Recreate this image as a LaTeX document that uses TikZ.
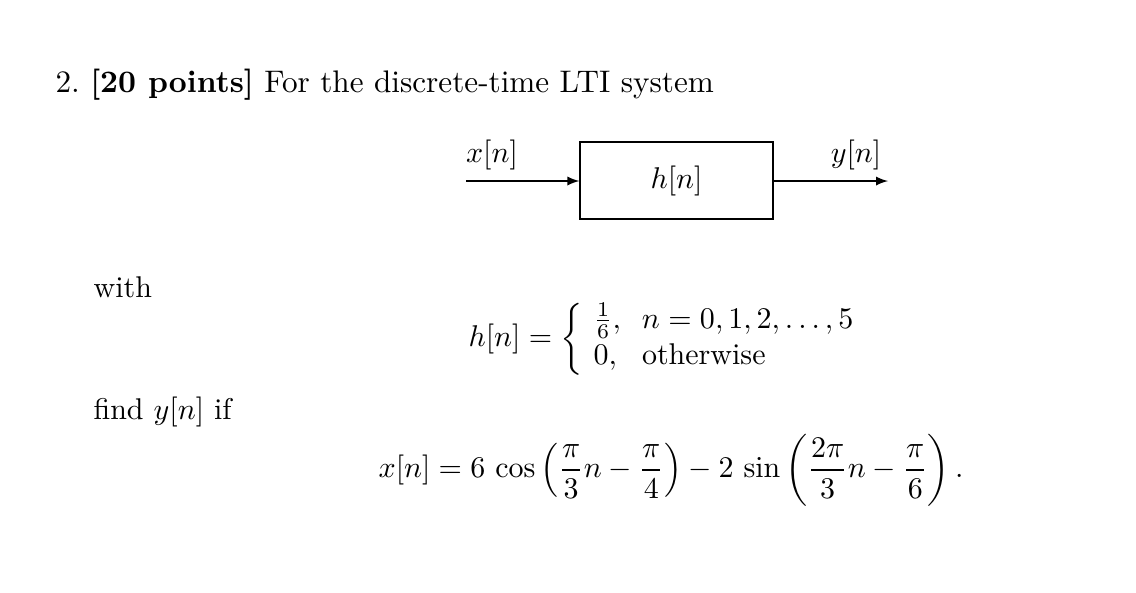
\documentclass[tikz,border=0pt]{standalone}
\usepackage{amsmath}
\begin{document}
\begin{tikzpicture}[x=0.3333pt,y=-0.3333pt,
  lbl/.style={inner sep=0pt},
  sig/.style={->,>=latex}]
\useasboundingbox (0,0) rectangle (1136,592);
\node[lbl,anchor=base west] (title) at (55,92) {\fontsize{10.4}{12}\selectfont 2.\ \textbf{[20 points]} For the discrete-time LTI system};
\node[draw,minimum width=193*0.3333pt,minimum height=77*0.3333pt,inner sep=0pt] (sys) at (676.5,180.5) {$h[n]$};
\coordinate (in) at (466,181);
\coordinate (out) at (888,181);
\draw[sig] (in) -- (sys.west |- in);
\draw[sig] (sys.east |- out) -- (out);
\node[lbl] (xl) at (492,155) {$x[n]$};
\node[lbl] (yl) at (856,155) {$y[n]$};
\node[lbl,anchor=base west] (with) at (93,297) {with};
\node[lbl] (heq) at (668,339) {\setlength{\arraycolsep}{3.5pt}$h[n]=\left\{\begin{array}{ll}\frac16, & n=0,1,2,\ldots,5\\ 0, & \text{otherwise}\end{array}\right.$};
\node[lbl,anchor=base west] (find) at (93,419) {find $y[n]$ if};
\node[lbl] (xeq) at (671,470) {$x[n]=6\,\cos\left(\dfrac{\pi}{3}n-\dfrac{\pi}{4}\right)-2\,\sin\left(\dfrac{2\pi}{3}n-\dfrac{\pi}{6}\right).$};
\end{tikzpicture}
\end{document}
